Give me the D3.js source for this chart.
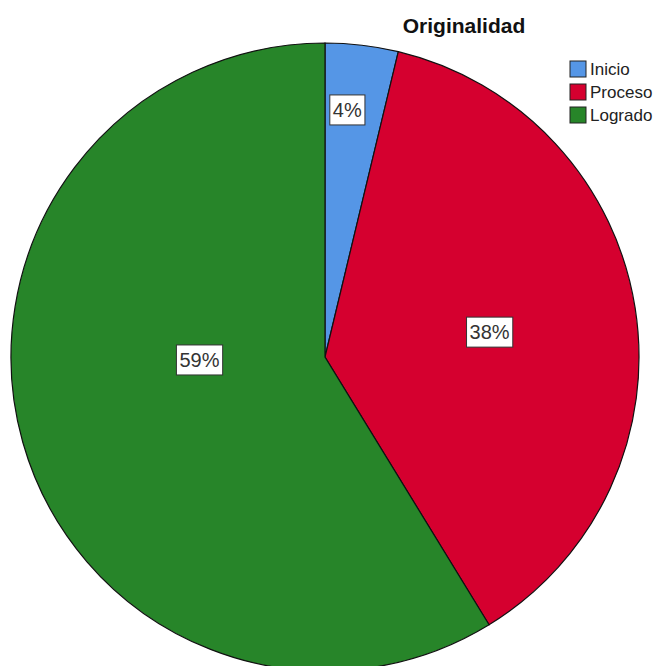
<!DOCTYPE html>
<html>
<head>
<meta charset="utf-8">
<script src="https://cdn.jsdelivr.net/npm/d3@7"></script>
<style>
  body { margin: 0; background: #fff; }
  svg { display: block; font-family: "Liberation Sans", Arial, sans-serif; }
</style>
</head>
<body>
<svg id="chart" width="656" height="666"></svg>
<script>
// data (counts, shown as %)
var categories = ["Inicio", "Proceso", "Logrado"];
var counts = [3, 30, 47];
var colors = ["#5596e6", "#d5002f", "#278529"];

// where SPSS put the % boxes: fraction of radius, shift from mid angle (deg)
var labelRadius = [0.79, 0.53, 0.40];
var labelShift = [-1.6, 0.4, 14.4];

var svg = d3.select("#chart"),
    cx = 325,
    cy = 357,
    radius = 314;

var total = d3.sum(counts);

var pie = d3.pie()
    .sort(null)
    .value(function(d) { return d; });

var arc = d3.arc()
    .outerRadius(radius)
    .innerRadius(0);

var g = svg.append("g")
    .attr("transform", "translate(" + cx + "," + cy + ")");

var slices = pie(counts);

g.selectAll(".slice")
    .data(slices)
    .enter().append("path")
    .attr("class", "slice")
    .attr("d", arc)
    .attr("fill", function(d, i) { return colors[i]; })
    .attr("stroke", "#111")
    .attr("stroke-width", 1.2);

// percent labels in white boxes
var labels = g.selectAll(".lbl")
    .data(slices)
    .enter().append("g")
    .attr("class", "lbl")
    .attr("transform", function(d, i) {
        var a = (d.startAngle + d.endAngle) / 2 + labelShift[i] * Math.PI / 180;
        var r = radius * labelRadius[i];
        return "translate(" + (r * Math.sin(a)) + "," + (-r * Math.cos(a)) + ")";
    });

labels.each(function(d) {
    var sel = d3.select(this);
    var t = sel.append("text")
        .attr("text-anchor", "middle")
        .attr("dy", "0.35em")
        .attr("font-size", "20px")
        .attr("fill", "#333")
        .text(Math.round(d.value / total * 100) + "%");
    var bb = t.node().getBBox();
    sel.insert("rect", "text")
        .attr("x", bb.x - 3)
        .attr("y", -15)
        .attr("width", bb.width + 6)
        .attr("height", 30)
        .attr("fill", "#fff")
        .attr("stroke", "#333")
        .attr("stroke-width", 1);
});

// title
svg.append("text")
    .attr("x", 464)
    .attr("y", 33)
    .attr("text-anchor", "middle")
    .attr("font-size", "21px")
    .attr("font-weight", "bold")
    .attr("fill", "#111")
    .text("Originalidad");

// legend
var legend = svg.append("g")
    .attr("transform", "translate(570,61)");

var item = legend.selectAll(".item")
    .data(categories)
    .enter().append("g")
    .attr("class", "item")
    .attr("transform", function(d, i) { return "translate(0," + (i * 23) + ")"; });

item.append("rect")
    .attr("width", 16)
    .attr("height", 16)
    .attr("fill", function(d, i) { return colors[i]; })
    .attr("stroke", "#222")
    .attr("stroke-width", 1);

item.append("text")
    .attr("x", 20)
    .attr("y", 8)
    .attr("dy", "0.35em")
    .attr("font-size", "17px")
    .attr("fill", "#222")
    .text(function(d) { return d; });
</script>
</body>
</html>
